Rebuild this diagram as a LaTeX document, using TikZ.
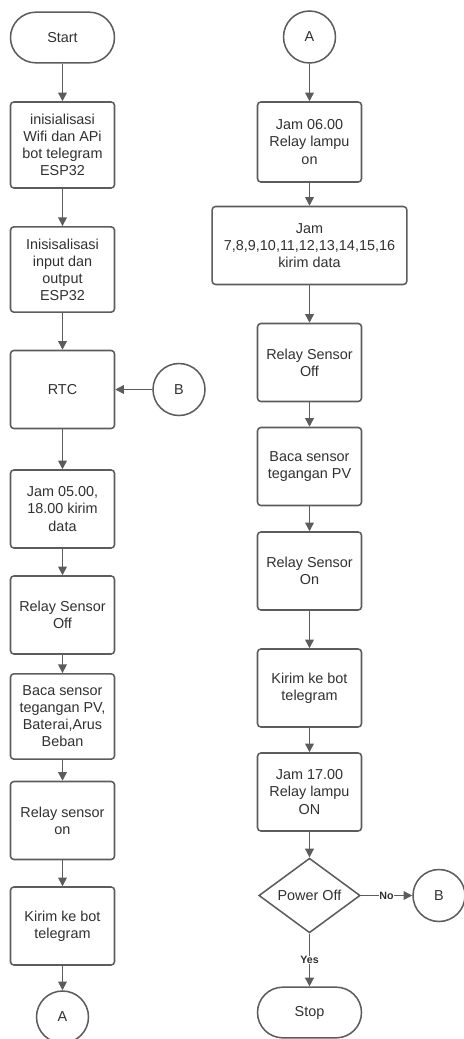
\documentclass[tikz,border=0pt]{standalone}
\usepackage{fontspec}
\setmainfont{Liberation Sans}
\usetikzlibrary{positioning,shapes.geometric,arrows.meta}
\definecolor{linec}{RGB}{92,92,92}
\definecolor{txtc}{RGB}{48,48,48}

\begin{document}
\begin{tikzpicture}[x=0.75pt,y=-0.75pt]
\tikzstyle{proc}=[draw=linec,line width=1.15pt,rounded corners=2.5pt,minimum width=78pt,minimum height=58.5pt,inner sep=0pt,align=center,text=txtc,font=\fontsize{10.8}{12.8}\selectfont];
\tikzstyle{term}=[proc,rounded corners=19pt,minimum height=38pt];
\tikzstyle{conn}=[draw=linec,line width=1.15pt,circle,minimum size=39pt,inner sep=0pt,text=txtc,font=\fontsize{10.8}{12.8}\selectfont];
\tikzstyle{dec}=[draw=linec,line width=1.15pt,diamond,aspect=1.35,minimum width=76pt,minimum height=56pt,inner sep=0pt,text=txtc,font=\fontsize{10.8}{12.8}\selectfont];
\tikzstyle{arr}=[draw=linec,line width=1.15pt,-{Triangle[width=6.5pt,length=6.5pt]}];
\tikzstyle{lbl}=[fill=white,inner sep=0.5pt,text=txtc,font=\fontsize{8}{9}\selectfont\bfseries];

\useasboundingbox (0,0) rectangle (464,1039);

% left column
\node[term] (start) at (62.5,37.5) {Start};
\node[proc,minimum height=64.5pt] (init) at (62.5,145) {inisialisasi\\Wifi dan APi\\bot telegram\\ESP32};
\node[proc,minimum height=64pt] (inout) at (62.5,269.5) {Inisisalisasi\\input dan\\output\\ESP32};
\node[proc] (rtc) at (62.5,389.5) {RTC};
\node[conn] (cb) at (179,389.5) {B};
\node[proc] (jam5) at (62.5,509) {Jam 05.00,\\18.00 kirim\\data};
\node[proc] (rsoff) at (62.5,615) {Relay Sensor\\Off};
\node[proc,minimum height=64pt] (baca) at (62.5,716.5) {Baca sensor\\tegangan PV,\\Baterai,Arus\\Beban};
\node[proc] (rson) at (62.5,820.5) {Relay sensor\\on};
\node[proc] (kirim) at (62.5,926) {Kirim ke bot\\telegram};
\node[conn] (ca) at (62.5,1017) {A};

% right column
\node[conn] (ca2) at (309.5,37) {A};
\node[proc,minimum height=60pt] (jam6) at (309.5,142) {Jam 06.00\\Relay lampu\\on};
\node[proc,minimum width=146pt] (jamdata) at (309.5,245.5) {Jam\\7,8,9,10,11,12,13,14,15,16\\kirim data};
\node[proc] (rsoff2) at (309.5,362.5) {Relay Sensor\\Off};
\node[proc] (baca2) at (309.5,466.5) {Baca sensor\\tegangan PV};
\node[proc] (rson2) at (309.5,571) {Relay Sensor\\On};
\node[proc] (kirim2) at (309.5,688) {Kirim ke bot\\telegram};
\node[proc] (jam17) at (309.5,792) {Jam 17.00\\Relay lampu\\ON};
\node[dec] (power) at (309.5,895.5) {Power Off};
\node[conn] (cb2) at (439,895.5) {B};
\node[term] (stop) at (309.5,1012.5) {Stop};

\draw[arr] (start) -- (init);
\draw[arr] (init) -- (inout);
\draw[arr] (inout) -- (rtc);
\draw[arr] (cb) -- (rtc);
\draw[arr] (rtc) -- (jam5);
\draw[arr] (jam5) -- (rsoff);
\draw[arr] (rsoff) -- (baca);
\draw[arr] (baca) -- (rson);
\draw[arr] (rson) -- (kirim);
\draw[arr] (kirim) -- (ca);

\draw[arr] (ca2) -- (jam6);
\draw[arr] (jam6) -- (jamdata);
\draw[arr] (jamdata) -- (rsoff2);
\draw[arr] (rsoff2) -- (baca2);
\draw[arr] (baca2) -- (rson2);
\draw[arr] (rson2) -- (kirim2);
\draw[arr] (kirim2) -- (jam17);
\draw[arr] (jam17) -- (power);
\draw[arr] (power) -- node[lbl] {No} (cb2);
\draw[arr] (power) -- node[lbl] {Yes} (stop);

\end{tikzpicture}
\end{document}
